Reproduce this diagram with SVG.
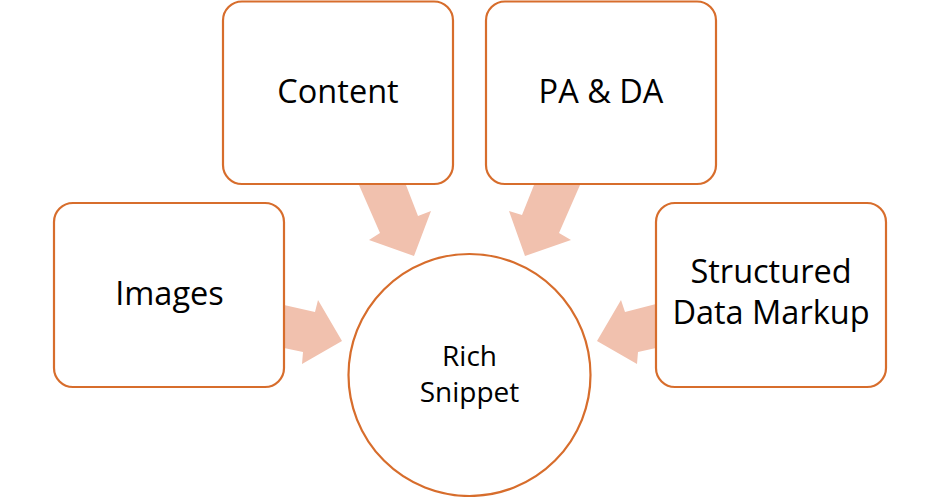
<svg xmlns="http://www.w3.org/2000/svg" width="939" height="497" viewBox="0 0 939 497">
<style>
.box{fill:#fff;stroke:#D76D2C;stroke-width:2.2}
.arr{fill:#F1C1AE;stroke:none}
.lbl{font-family:"Open Sans","Noto Sans",sans-serif;font-size:32.5px;fill:#000;text-anchor:middle}
.sm{font-size:28px}
</style>
<rect width="939" height="497" fill="#fff"/>
<g id="connectors">
<polygon class="arr" points="359,185 406,185 418,216 431,211 414,256 369,240 380,233"/>
<polygon class="arr" points="534,185 580,185 559,233 571,240 525,256 509,211 522,215"/>
<polygon class="arr" points="284,305 315,312 318,300 342,341 302,364 303,352 284,348"/>
<polygon class="arr" points="656,304 625,312 621,300 597,341 637,364 638,352 656,348"/>
</g>
<g id="content">
<rect class="box" x="223" y="1.5" width="230" height="182.5" rx="19"/>
<text class="lbl" x="338" y="103">Content</text>
</g>
<g id="pada">
<rect class="box" x="486" y="1.5" width="230" height="182.5" rx="19"/>
<text class="lbl" x="601" y="103">PA &amp; DA</text>
</g>
<g id="images">
<rect class="box" x="54" y="203" width="230" height="184" rx="19"/>
<text class="lbl" x="169.5" y="305">Images</text>
</g>
<g id="structured">
<rect class="box" x="656" y="203" width="230" height="184" rx="19"/>
<text class="lbl" x="771" y="283">Structured</text>
<text class="lbl" x="771" y="324">Data Markup</text>
</g>
<g id="rich">
<circle class="box" cx="469.5" cy="375" r="121"/>
<text class="lbl sm" x="469.5" y="366">Rich</text>
<text class="lbl sm" x="469.5" y="402">Snippet</text>
</g>
</svg>
